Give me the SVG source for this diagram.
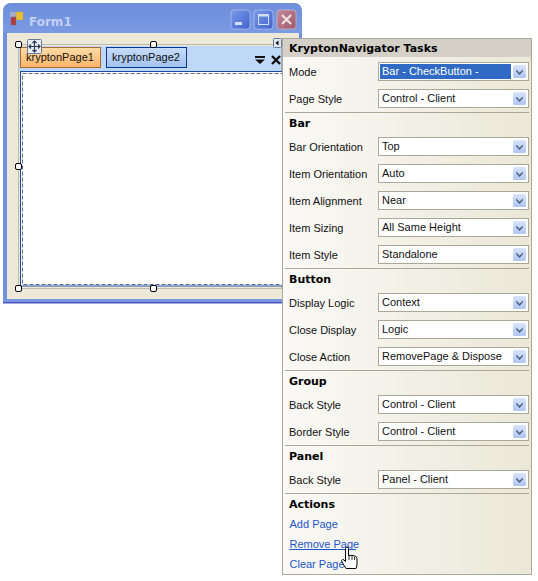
<svg xmlns="http://www.w3.org/2000/svg" xmlns:xlink="http://www.w3.org/1999/xlink" width="538" height="581" viewBox="0 0 538 581">
<style>
text{font-family:"Liberation Sans",Arial,sans-serif;font-size:11px;fill:#111}
.h{font-family:"DejaVu Sans",sans-serif;font-weight:bold;font-size:11px;fill:#000}
.lnk{fill:#1e55c8}
.sep{stroke:#aca899;stroke-width:1}
.box{fill:#fff;stroke:#aca899;stroke-width:1}
.hd{fill:#fff;stroke:#000;stroke-width:1}
</style>
<defs>
<linearGradient id="tb" x1="0" y1="0" x2="0" y2="1"><stop offset="0" stop-color="#6f8fdc"/><stop offset=".5" stop-color="#7394df"/><stop offset="1" stop-color="#7c9ae2"/></linearGradient>
<linearGradient id="pn" x1="0" y1="0" x2="1" y2="0"><stop offset="0" stop-color="#faf9f6"/><stop offset="1" stop-color="#ebe8d7"/></linearGradient>
<linearGradient id="t1" x1="0" y1="0" x2="0" y2="1"><stop offset="0" stop-color="#ffdca8"/><stop offset="1" stop-color="#ffb468"/></linearGradient>
<linearGradient id="t2" x1="0" y1="0" x2="0" y2="1"><stop offset="0" stop-color="#c8ddf9"/><stop offset="1" stop-color="#a2c1f0"/></linearGradient>
<linearGradient id="cb" x1="0" y1="0" x2="0" y2="1"><stop offset="0" stop-color="#d8e4fb"/><stop offset="1" stop-color="#b0c6f2"/></linearGradient>
<linearGradient id="bb" x1="0" y1="0" x2="1" y2="1"><stop offset="0" stop-color="#7c9be8"/><stop offset="1" stop-color="#3f62cc"/></linearGradient>
<linearGradient id="br" x1="0" y1="0" x2="1" y2="1"><stop offset="0" stop-color="#c08a9c"/><stop offset="1" stop-color="#a05a6c"/></linearGradient>
<g id="arrow"><rect x="0" y="0" width="13" height="13" rx="1.5" fill="url(#cb)"/><path d="M3.2 4.500L6.500 7.800L9.800 4.500V6.600L6.500 9.900L3.200 6.600Z" fill="#4d6185"/></g>
</defs>

<g id="form-window">
<path d="M3 303V12Q3 3 12 3H293Q302 3 302 12V303Z" fill="#7090dc"/>
<path d="M3 12Q3 3 12 3H293Q302 3 302 12V33H3Z" fill="url(#tb)"/>
<rect x="3" y="299" width="299" height="3" fill="#7c95e2"/>
<rect x="3" y="302" width="299" height="1.500" fill="#4a54c0"/>
<rect x="7" y="33" width="292" height="266" fill="#ece9d8"/>
<g>
<rect x="10" y="12" width="6" height="6" fill="#a9a9c9"/><rect x="16" y="12" width="7" height="8" fill="#e6c03c" stroke="#b89a30" stroke-width=".5"/><rect x="11" y="17" width="5" height="8" fill="#b23c3c" stroke="#70708c" stroke-width=".5"/><rect x="16" y="20" width="6" height="5" fill="#6f9ae0"/>
</g>
<text x="29" y="25.500" style="font-family:'DejaVu Sans',sans-serif;font-weight:bold;font-size:12px;fill:#c4d0f2">Form1</text>
<rect x="231" y="10" width="19" height="19" rx="3" fill="url(#bb)" stroke="#b4c4f0" stroke-width=".7"/>
<rect x="235" y="22" width="7" height="3" fill="#d4def8"/>
<rect x="254" y="10" width="19" height="19" rx="3" fill="url(#bb)" stroke="#b4c4f0" stroke-width=".7"/>
<rect x="258.500" y="14.500" width="10" height="10" fill="none" stroke="#d4def8" stroke-width="1"/><rect x="258" y="14" width="11" height="2.500" fill="#d4def8"/>
<rect x="277" y="10" width="19" height="19" rx="3" fill="url(#br)" stroke="#d4bcc8" stroke-width=".7"/>
<path d="M282 15L291 24M291 15L282 24" stroke="#f0e0e4" stroke-width="2.200" fill="none"/>
</g>

<g id="navigator">
<rect x="19" y="46" width="263" height="25" fill="#bfd8f8"/>
<rect x="18.500" y="44.500" width="263" height="244" fill="none" stroke="#8a8a80" stroke-width="1" stroke-dasharray="1 1"/>
<rect x="20.500" y="71.500" width="262" height="214.500" fill="#fff" stroke="#1c4aa0"/>
<rect x="22.500" y="73.500" width="260" height="211" fill="none" stroke="#5a6a88" stroke-dasharray="4 2"/>
<g id="tab1"><rect x="20.500" y="47.500" width="80" height="20" fill="url(#t1)" stroke="#a86c30"/><text x="26" y="61">kryptonPage1</text></g>
<g id="tab2"><rect x="106.500" y="47.500" width="80" height="20" fill="url(#t2)" stroke="#0a3a90"/><text x="112" y="61">kryptonPage2</text></g>
<path d="M255 56H265V58H255ZM255 59.500H265L260 64Z" fill="#111"/>
<path d="M272 56L280 64M280 56L272 64" stroke="#111" stroke-width="2.400" fill="none"/>
<g id="move-glyph"><rect x="27.500" y="39.500" width="14" height="14" rx="1" fill="#e6ecf6" stroke="#6a7a92"/><path d="M34.500 41V52M29 46.500H40M32.500 43L34.500 41L36.500 43M32.500 50L34.500 52L36.500 50M31 44.500L29 46.500L31 48.500M38 44.500L40 46.500L38 48.500" stroke="#2a3a50" stroke-width="1.200" fill="none"/></g>
<rect class="hd" x="15.500" y="41.500" width="6" height="6" rx="1.500"/>
<rect class="hd" x="150.500" y="41.500" width="6" height="6" rx="1.500"/>
<rect class="hd" x="15.500" y="163.500" width="6" height="6" rx="1.500"/>
<rect class="hd" x="15.500" y="285.500" width="6" height="6" rx="1.500"/>
<rect class="hd" x="150.500" y="285.500" width="6" height="6" rx="1.500"/>
<rect x="273.500" y="38.500" width="8" height="9" rx="1" fill="#dfe6f2" stroke="#6a7a92"/><path d="M278.500 40.500V45.500L275.500 43Z" fill="#111"/>
</g>

<g id="tasks-panel">
<rect x="282.500" y="38.500" width="249" height="536" fill="url(#pn)" stroke="#aca899"/>
<rect x="283" y="39" width="248" height="18" fill="#d4d0c8"/>
<text class="h" x="289" y="52">KryptonNavigator Tasks</text>
<line class="sep" x1="285" y1="112.500" x2="529" y2="112.500"/>
<line class="sep" x1="285" y1="268.500" x2="529" y2="268.500"/>
<line class="sep" x1="285" y1="370.500" x2="529" y2="370.500"/>
<line class="sep" x1="285" y1="445.500" x2="529" y2="445.500"/>
<line class="sep" x1="285" y1="493.500" x2="529" y2="493.500"/>
<text class="h" x="289" y="127">Bar</text>
<text class="h" x="289" y="283">Button</text>
<text class="h" x="289" y="385">Group</text>
<text class="h" x="289" y="460">Panel</text>
<text class="h" x="289" y="508">Actions</text>

<g id="row-mode"><text x="289" y="76">Mode</text><rect class="box" x="378.500" y="62.500" width="150" height="18"/><rect x="380" y="64" width="131" height="15" fill="#316ac5"/><text x="382" y="75" style="fill:#fff">Bar - CheckButton -</text><use xlink:href="#arrow" href="#arrow" x="513" y="65"/></g>
<g id="row-page-style"><text x="289" y="103">Page Style</text><rect class="box" x="378.500" y="89.500" width="150" height="18"/><text x="382" y="102">Control - Client</text><use xlink:href="#arrow" href="#arrow" x="513" y="92"/></g>
<g id="row-bar-orientation"><text x="289" y="151">Bar Orientation</text><rect class="box" x="378.500" y="137.500" width="150" height="18"/><text x="382" y="150">Top</text><use xlink:href="#arrow" href="#arrow" x="513" y="140"/></g>
<g id="row-item-orientation"><text x="289" y="178">Item Orientation</text><rect class="box" x="378.500" y="164.500" width="150" height="18"/><text x="382" y="177">Auto</text><use xlink:href="#arrow" href="#arrow" x="513" y="167"/></g>
<g id="row-item-alignment"><text x="289" y="205">Item Alignment</text><rect class="box" x="378.500" y="191.500" width="150" height="18"/><text x="382" y="204">Near</text><use xlink:href="#arrow" href="#arrow" x="513" y="194"/></g>
<g id="row-item-sizing"><text x="289" y="232">Item Sizing</text><rect class="box" x="378.500" y="218.500" width="150" height="18"/><text x="382" y="231">All Same Height</text><use xlink:href="#arrow" href="#arrow" x="513" y="221"/></g>
<g id="row-item-style"><text x="289" y="259">Item Style</text><rect class="box" x="378.500" y="245.500" width="150" height="18"/><text x="382" y="258">Standalone</text><use xlink:href="#arrow" href="#arrow" x="513" y="248"/></g>
<g id="row-display-logic"><text x="289" y="307">Display Logic</text><rect class="box" x="378.500" y="293.500" width="150" height="18"/><text x="382" y="306">Context</text><use xlink:href="#arrow" href="#arrow" x="513" y="296"/></g>
<g id="row-close-display"><text x="289" y="334">Close Display</text><rect class="box" x="378.500" y="320.500" width="150" height="18"/><text x="382" y="333">Logic</text><use xlink:href="#arrow" href="#arrow" x="513" y="323"/></g>
<g id="row-close-action"><text x="289" y="361">Close Action</text><rect class="box" x="378.500" y="347.500" width="150" height="18"/><text x="382" y="360">RemovePage &amp; Dispose</text><use xlink:href="#arrow" href="#arrow" x="513" y="350"/></g>
<g id="row-group-back"><text x="289" y="409">Back Style</text><rect class="box" x="378.500" y="395.500" width="150" height="18"/><text x="382" y="408">Control - Client</text><use xlink:href="#arrow" href="#arrow" x="513" y="398"/></g>
<g id="row-group-border"><text x="289" y="436">Border Style</text><rect class="box" x="378.500" y="422.500" width="150" height="18"/><text x="382" y="435">Control - Client</text><use xlink:href="#arrow" href="#arrow" x="513" y="425"/></g>
<g id="row-panel-back"><text x="289" y="484">Back Style</text><rect class="box" x="378.500" y="470.500" width="150" height="18"/><text x="382" y="483">Panel - Client</text><use xlink:href="#arrow" href="#arrow" x="513" y="473"/></g>

<text class="lnk" x="289.500" y="528">Add Page</text>
<text class="lnk" x="289.500" y="548">Remove Page</text>
<line x1="289.500" y1="549.500" x2="356" y2="549.500" stroke="#1e55c8"/>
<text class="lnk" x="289.500" y="568">Clear Pages</text>
<g id="hand-cursor"><path d="M345.500 548.500Q345.500 547 347 547Q348.500 547 348.500 548.500V555.500Q352 555 355 556Q357 556.500 357 559V564Q357 566 356 568.500H346L342 562Q341 560 342.500 559.500Q344 559.500 345.500 561.500Z" fill="#fff" stroke="#000"/><path d="M349 556V560M352 556V560M354.500 557V560" stroke="#000" stroke-width=".8"/></g>
</g>
</svg>
